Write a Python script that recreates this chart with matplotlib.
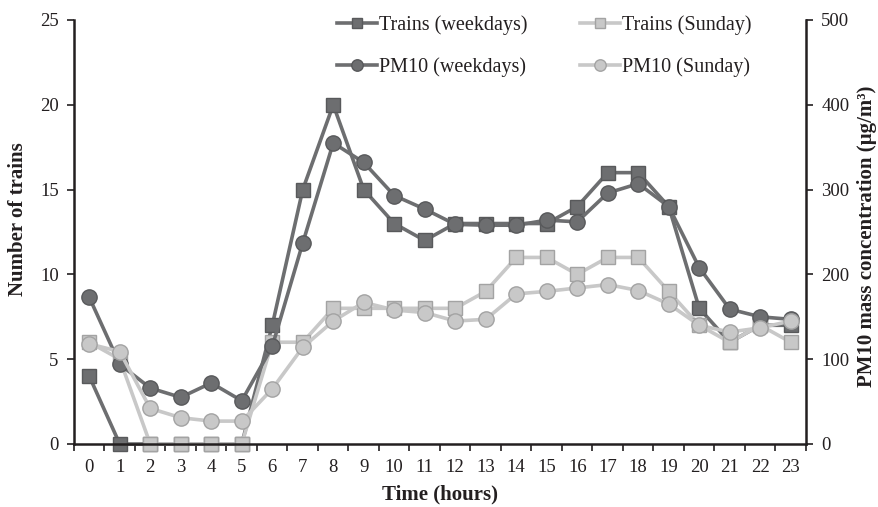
import matplotlib.pyplot as plt

plt.rcParams['font.family'] = ['Liberation Serif', 'DejaVu Serif']

hours = list(range(24))
trains_weekdays = [4, 0, 0, 0, 0, 0, 7, 15, 20, 15, 13, 12, 13, 13, 13, 13, 14, 16, 16, 14, 8, 6, 7, 7]
trains_sunday = [6, 5, 0, 0, 0, 0, 6, 6, 8, 8, 8, 8, 8, 9, 11, 11, 10, 11, 11, 9, 7, 6, 7, 6]
pm10_weekdays = [173, 94, 66, 55, 72, 51, 115, 237, 355, 332, 293, 277, 259, 258, 258, 264,
                 262, 296, 307, 280, 208, 159, 150, 147]
pm10_sunday = [118, 109, 42, 31, 27, 27, 65, 114, 145, 167, 158, 155, 145, 147, 177, 180,
               184, 188, 181, 165, 140, 132, 137, 145]

dark = '#6d6e70'
dark_edge = '#58595b'
light = '#c8c8c8'
light_edge = '#a3a3a3'
ink = '#231f20'

fig = plt.figure(figsize=(8.79, 5.07), dpi=100)
ax = fig.add_axes([74 / 879, 1 - 444 / 507, 732 / 879, 424 / 507])
ax2 = ax.twinx()

l1, = ax.plot(hours, trains_weekdays, color=dark, lw=2.6, marker='s', ms=10,
              mfc=dark, mec=dark_edge, mew=1, label='Trains (weekdays)', clip_on=False)
l2, = ax.plot(hours, trains_sunday, color=light, lw=2.6, marker='s', ms=10,
              mfc=light, mec=light_edge, mew=1, label='Trains (Sunday)', clip_on=False)
l3, = ax2.plot(hours, pm10_weekdays, color=dark, lw=2.6, marker='o', ms=11,
               mfc=dark, mec=dark_edge, mew=1, label='PM10 (weekdays)', clip_on=False)
l4, = ax2.plot(hours, pm10_sunday, color=light, lw=2.6, marker='o', ms=11,
               mfc=light, mec=light_edge, mew=1, label='PM10 (Sunday)', clip_on=False)

ax.set_xlim(-0.5, 23.5)
ax.set_ylim(0, 25)
ax2.set_ylim(0, 500)
ax.set_yticks([0, 5, 10, 15, 20, 25])
ax2.set_yticks([0, 100, 200, 300, 400, 500])
ax.set_xticks(hours)
ax.set_xticks([h - 0.5 for h in hours] + [23.5], minor=True)
ax.tick_params(axis='x', which='major', length=0, labelsize=13.5, pad=11, colors=ink)
ax.tick_params(axis='x', which='minor', length=5, width=1.2, direction='out', color=ink)
ax.tick_params(axis='y', length=5, width=1.2, labelsize=13.5, colors=ink, pad=6)
ax2.tick_params(axis='y', length=5, width=1.2, labelsize=13.5, colors=ink, pad=6)

for a in (ax, ax2):
    a.spines['top'].set_visible(False)
    for s in ('left', 'right', 'bottom'):
        a.spines[s].set_linewidth(1.8)
        a.spines[s].set_color(ink)
ax.spines['right'].set_visible(False)
ax2.spines['left'].set_visible(False)
ax2.spines['bottom'].set_visible(False)

ax.set_xlabel('Time (hours)', fontsize=15, fontweight='bold', labelpad=6, color=ink)
ax.set_ylabel('Number of trains', fontsize=15, fontweight='bold', color=ink)
ax.yaxis.set_label_coords(-46 / 732, 0.53)
ax2.set_ylabel('PM10 mass concentration (µg/m³)', fontsize=15, fontweight='bold', color=ink)
ax2.yaxis.set_label_coords(1 + 51 / 732, 0.49)

# row-wise order: trains on the first row, PM10 on the second
handles = [l1, l3, l2, l4]
leg = fig.legend(handles, [h.get_label() for h in handles],
                 ncol=2, loc='upper left', bbox_to_anchor=(337 / 879, 1 - 15 / 507),
                 frameon=False, fontsize=14.5, handlelength=2.0, handletextpad=0.1,
                 columnspacing=2.6, labelspacing=1.1, borderpad=0, borderaxespad=0,
                 markerscale=0.75)
for t in leg.get_texts():
    t.set_color(ink)

fig.savefig('out.png', dpi=100, facecolor='white')
